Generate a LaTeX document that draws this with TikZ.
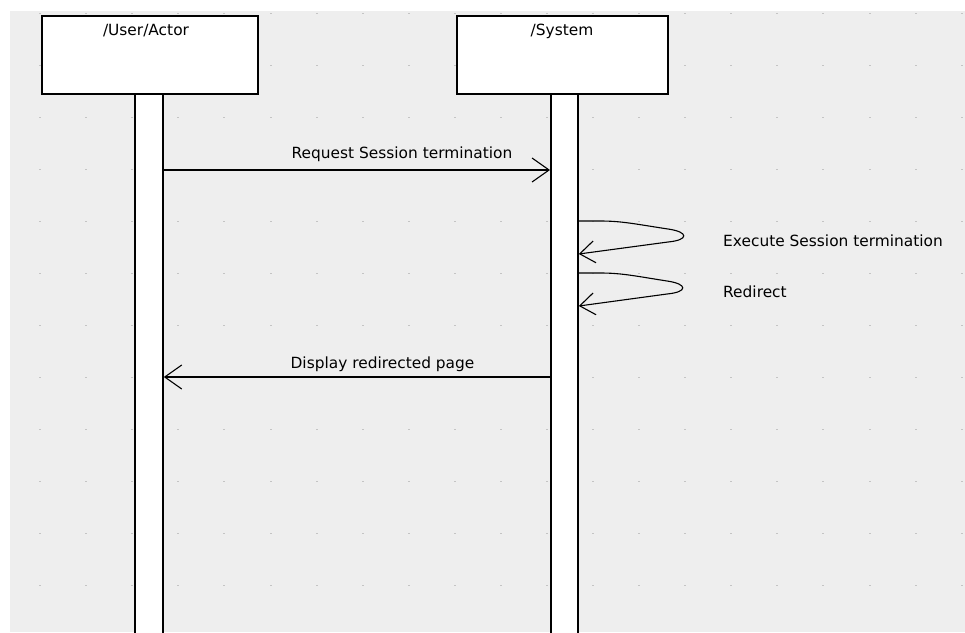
\documentclass[tikz,border=0pt]{standalone}
\usepackage{fontspec}
\setmainfont{DejaVu Sans}
\usetikzlibrary{arrows.meta}
\definecolor{bggray}{HTML}{EEEEEE}
\definecolor{dotgray}{HTML}{C4C4C4}
\begin{document}
\begin{tikzpicture}[x=1pt,y=-1pt,
  lbl/.style={inner sep=0pt, anchor=base, font=\fontsize{15.4}{18}\selectfont},
  lbll/.style={lbl, anchor=base west},
  headbox/.style={draw=black, fill=white, line width=2pt, inner sep=0pt, anchor=north west},
  lifebox/.style={draw=black, fill=white, line width=1.8pt, inner sep=0pt, anchor=north west},
  msg/.style={line width=1.1pt, -{Straight Barb[length=17pt,width=24pt,line width=1.1pt]}},
  selfmsg/.style={line width=1.1pt, -{Straight Barb[length=15pt,width=22pt,line width=1.1pt]}}
]
\useasboundingbox (0,0) rectangle (965,632);
\fill[white] (0,0) rectangle (965,632);
\fill[bggray] (10,11) rectangle (965,632);
% grid dots
\foreach \r in {0,...,11}{
  \foreach \c in {0,...,20}{
    \fill[dotgray] ({40.1+46.08*\c-1},{13+52*\r-0.5}) rectangle ++(2,1);
  }
}
% lifelines
\clip (0,0) rectangle (965,632);
\node[lifebox, minimum width=28pt, minimum height=560pt] (userlife) at (134,90) {};
\node[lifebox, minimum width=27pt, minimum height=560pt] (syslife) at (550,90) {};
% head boxes
\node[headbox, minimum width=216pt, minimum height=78pt] (userbox) at (41,15) {};
\node[headbox, minimum width=211pt, minimum height=78pt] (sysbox) at (456,15) {};
\node[lbl] (usertxt) at (146,35) {/User/Actor};
\node[lbl] (systxt) at (562,35) {/System};
% message 1
\coordinate (m1s) at (userlife.east |- 0,170);
\coordinate (m1e) at (syslife.west |- 0,170);
\draw[msg] (m1s) -- (m1e);
\node[lbl] (m1lbl) at (402,158) {Request Session termination};
% self message 1
\coordinate (s1s) at (syslife.east |- 0,221);
\coordinate (s1e) at (syslife.east |- 0,254);
\draw[selfmsg] (s1s) -- (600,221) .. controls (622,221) and (635,224) .. (668,229)
   .. controls (689,232) and (689,240) .. (668,242) -- (s1e);
\node[lbll] (s1lbl) at (723,246) {Execute Session termination};
% self message 2
\coordinate (s2s) at (syslife.east |- 0,273);
\coordinate (s2e) at (syslife.east |- 0,306);
\draw[selfmsg] (s2s) -- (600,273) .. controls (622,273) and (635,276) .. (667,281)
   .. controls (688,284) and (688,292) .. (667,294) -- (s2e);
\node[lbll] (s2lbl) at (723,297) {Redirect};
% message 2
\coordinate (m2s) at (syslife.west |- 0,377);
\coordinate (m2e) at (userlife.east |- 0,377);
\draw[msg] (m2s) -- (m2e);
\node[lbl] (m2lbl) at (382.5,368) {Display redirected page};
\end{tikzpicture}
\end{document}
